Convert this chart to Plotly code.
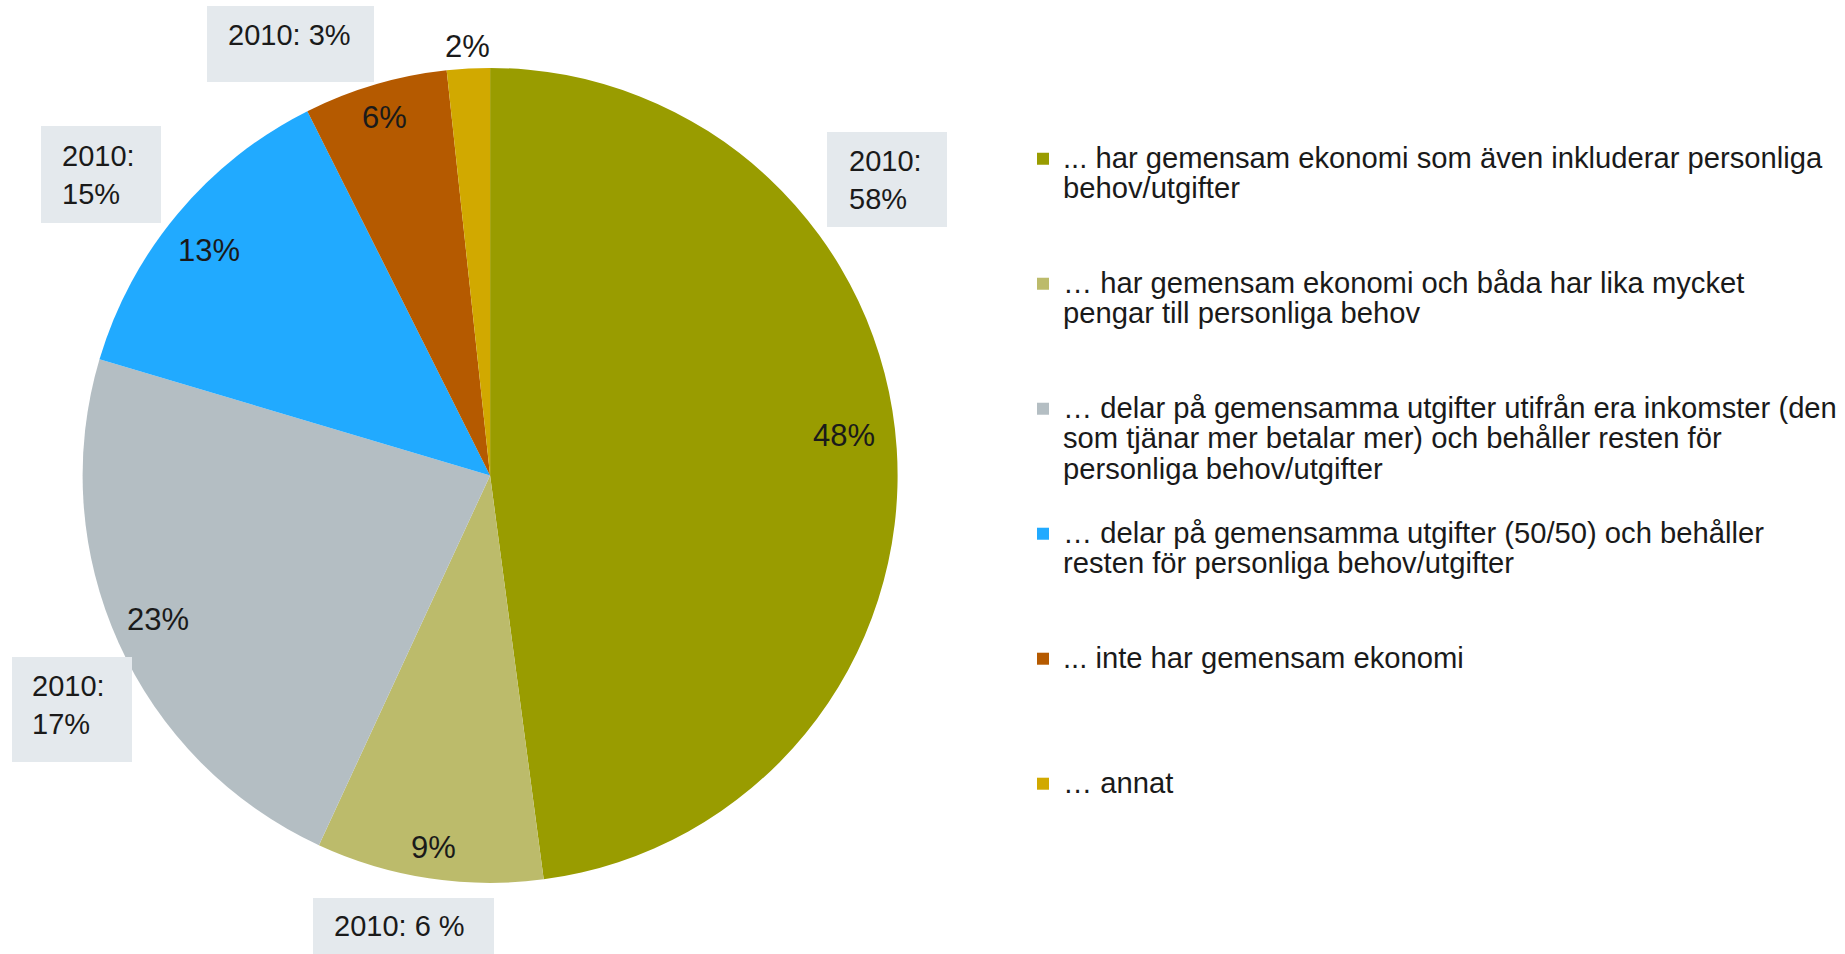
import math
import plotly.graph_objects as go

# ---------------- data ----------------
categories = [
    "... har gemensam ekonomi som även inkluderar personliga<br>behov/utgifter",
    "… har gemensam ekonomi och båda har lika mycket<br>pengar till personliga behov",
    "… delar på gemensamma utgifter utifrån era inkomster (den<br>som tjänar mer betalar mer) och behåller resten för<br>personliga behov/utgifter",
    "… delar på gemensamma utgifter (50/50) och behåller<br>resten för personliga behov/utgifter",
    "... inte har gemensam ekonomi",
    "… annat",
]
values = [47.9, 9.0, 22.7, 13.0, 5.7, 1.7]
labels_2010 = ["2010:<br>58%", "2010: 6 %", "2010:<br>17%", "2010:<br>15%", "2010: 3%"]

# ---------------- style ----------------
colors = ["#999C00", "#BCBB6B", "#B4BEC3", "#21AAFF", "#B55A00", "#D1A900"]
label_r = [0.874, 0.924, 0.888, 0.882, 0.915, 1.053]   # radial position of value labels (fraction of radius)
label_dang = [-2.6, 0.0, 0.8, -1.3, 0.0, 0.0]          # angular nudge of value labels (deg)
W, H = 1845, 954
CX, CY, R = 490.1, 475.4, 407.5   # pie centre / radius in px
TXT = "#1a1a1a"
BOX = "#E4E9ED"
FONT = "Liberation Sans, Arial, sans-serif"
LEG_BASE = 23.46     # sets legend line pitch
LEG_SIZE = 29.2      # visible legend glyph size

dom_x = [(CX - R) / W, (CX + R) / W]
dom_y = [1 - (CY + R) / H, 1 - (CY - R) / H]

# legend entries: bigger glyphs, padded to equal height (4 lines)
legend_text = []
for c in categories:
    lines = c.split("<br>")
    body = "<br>".join(f"<span style='font-size:{LEG_SIZE}px'>{ln}</span>" for ln in lines)
    legend_text.append(body + "<br> " * (4 - len(lines)))

fig = go.Figure()
fig.add_trace(go.Pie(
    labels=legend_text,
    values=values,
    sort=False,
    direction="clockwise",
    rotation=0,
    marker=dict(colors=colors, line=dict(width=0)),
    textinfo="none",
    domain=dict(x=dom_x, y=dom_y),
    hoverinfo="value",
))

# value labels derived from data
total = sum(values)
cum = 0
annotations = []
for v, rf, da in zip(values, label_r, label_dang):
    mid = (cum + v / 2) / total * 2 * math.pi + math.radians(da)
    cum += v
    px = CX + rf * R * math.sin(mid)
    py = CY - rf * R * math.cos(mid)
    annotations.append(dict(
        x=px / W, y=1 - py / H, xref="paper", yref="paper",
        text=f"{round(v)}%", showarrow=False, xanchor="center", yanchor="middle",
        font=dict(size=31, color=TXT, family=FONT),
    ))

# 2010 comparison boxes: (box x0, y0, x1, y1, text-left x, text-centre y)
box_geo = [
    (827, 132, 947, 227, 847, 180),
    (313, 898, 494, 960, 332, 926),
    (12, 657, 132, 762, 30, 705),
    (41, 126, 161, 223, 60, 175),
    (207, 6, 374, 82, 226, 35),
]
shapes = []
for txt, (x0, y0, x1, y1, tx, ty) in zip(labels_2010, box_geo):
    shapes.append(dict(type="rect", xref="paper", yref="paper",
                       x0=x0 / W, x1=x1 / W, y0=1 - y1 / H, y1=1 - y0 / H,
                       fillcolor=BOX, line=dict(width=0), layer="above"))
    annotations.append(dict(
        x=tx / W, y=1 - ty / H, xref="paper", yref="paper", text=txt,
        showarrow=False, xanchor="left", yanchor="middle", align="left",
        font=dict(size=29, color=TXT, family=FONT),
    ))

fig.update_layout(
    width=W, height=H,
    margin=dict(l=0, r=0, t=0, b=0),
    paper_bgcolor="white", plot_bgcolor="white",
    showlegend=True,
    legend=dict(
        x=1023 / W, y=1 - 137 / H, xanchor="left", yanchor="top",
        valign="top", bgcolor="rgba(0,0,0,0)", borderwidth=0,
        font=dict(size=LEG_BASE, color=TXT, family=FONT),
        traceorder="normal",
    ),
    shapes=shapes,
    annotations=annotations,
)

fig.write_html(
    "out.html",
    config={"displayModeBar": False},
    post_script="document.body.style.margin='0';document.body.style.overflow='hidden';",
)
